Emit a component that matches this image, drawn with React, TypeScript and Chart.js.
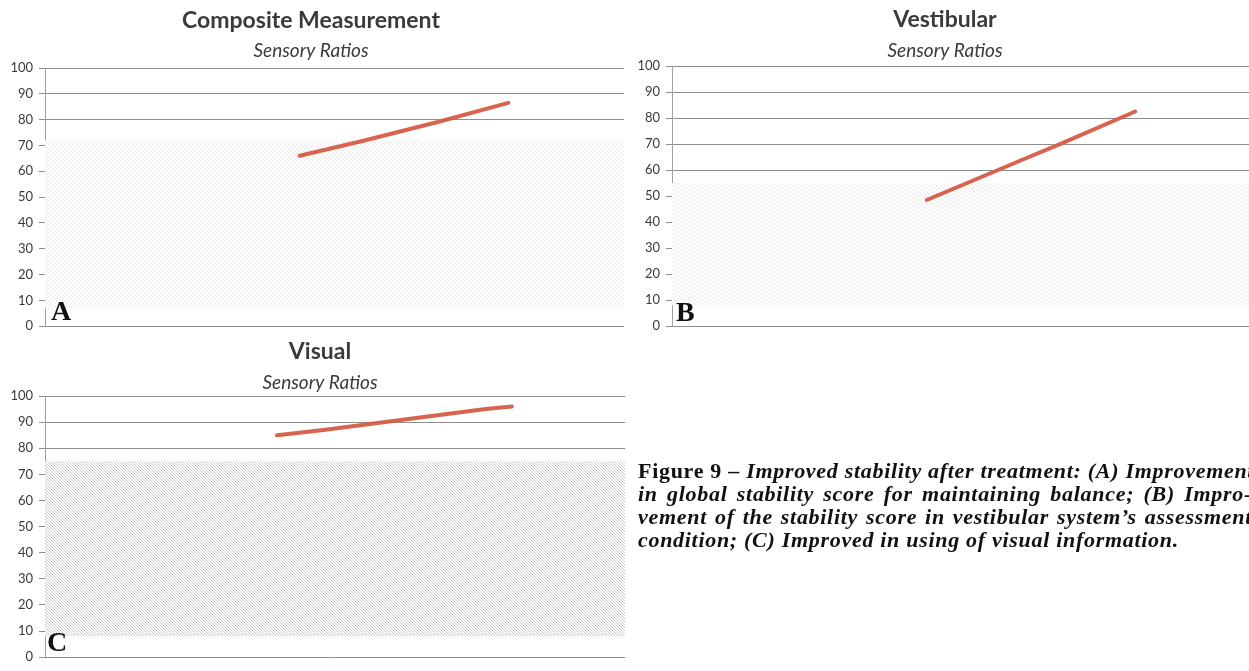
import React, { useEffect, useRef } from "react";
import { Chart, registerables } from "chart.js";

Chart.register(...registerables);

// Shared y axis ticks (score, 0–100)
const yTickValues = [0, 10, 20, 30, 40, 50, 60, 70, 80, 90, 100];

// Composite Measurement – sensory ratio scores
const compositeSession = [44, 55, 68, 80];
const compositeScore = [66, 71.8, 79.2, 86.5];
const compositeNormalBand = [7, 72];

// Vestibular – sensory ratio scores
const vestibularSession = [44, 52, 60, 67, 80];
const vestibularScore = [48.5, 56, 63.5, 70, 82.5];
const vestibularNormalBand = [8, 55];

// Visual – sensory ratio scores
const visualSession = [40, 48, 55, 62, 69, 76, 80.5];
const visualScore = [85, 87, 89, 91, 93, 95, 96];
const visualNormalBand = [8, 75];

const captionLines = [
  { lead: "Figure 9 – ", rest: "Improved stability after treatment: (A) Improvement", justify: false },
  { lead: "", rest: "in global stability score for maintaining balance; (B) Impro-", justify: true },
  { lead: "", rest: "vement of the stability score in vestibular system’s assessment", justify: true },
  { lead: "", rest: "condition; (C) Improved in using of visual information.", justify: false },
];

const TITLE_FONT = '"Lato", "Open Sans", sans-serif';
const LINE_COLOR = "rgba(214, 92, 70, 0.95)";

function hatchPattern(color: string, gap: number): CanvasPattern | string {
  const c = document.createElement("canvas");
  c.width = gap;
  c.height = gap;
  const g = c.getContext("2d");
  if (!g) return "#eee";
  g.fillStyle = "#ffffff";
  g.fillRect(0, 0, gap, gap);
  g.strokeStyle = color;
  g.lineWidth = 1;
  g.beginPath();
  g.moveTo(0, 0);
  g.lineTo(gap, gap);
  g.moveTo(-2, gap - 2);
  g.lineTo(2, gap + 2);
  g.moveTo(gap - 2, -2);
  g.lineTo(gap + 2, 2);
  g.stroke();
  return g.createPattern(c, "repeat") || "#eee";
}

const panelText = {
  id: "panelText",
  afterDraw(chart: any, _args: any, opts: any) {
    const { ctx, chartArea } = chart;
    ctx.save();
    ctx.fillStyle = "#3a3a3a";
    ctx.textAlign = "center";
    ctx.textBaseline = "alphabetic";
    ctx.font = `bold 23px ${TITLE_FONT}`;
    ctx.fillText(opts.title, opts.centerX, opts.titleBaseline);
    ctx.font = `italic 19px ${TITLE_FONT}`;
    ctx.fillText(opts.subtitle, opts.centerX, opts.subtitleBaseline);
    ctx.fillStyle = "#111111";
    ctx.textAlign = "left";
    ctx.font = 'bold 28px "Liberation Serif", serif';
    ctx.fillText(opts.letter, chartArea.left + opts.letterDx, chartArea.bottom - opts.letterDy);
    ctx.restore();
  },
};

type PanelProps = {
  left: number;
  top: number;
  width: number;
  height: number;
  pad: { top: number; right: number; bottom: number };
  xs: number[];
  ys: number[];
  band: number[];
  bandColor: string;
  bandGap: number;
  title: string;
  centerX: number;
  titleBaseline: number;
  subtitleBaseline: number;
  letter: string;
  letterDx: number;
  letterDy: number;
};

function Panel(p: PanelProps) {
  const ref = useRef<HTMLCanvasElement | null>(null);

  useEffect(() => {
    if (!ref.current) return;
    const pattern = hatchPattern(p.bandColor, p.bandGap);
    const chart = new Chart(ref.current, {
      type: "line",
      data: {
        datasets: [
          {
            label: p.title,
            data: p.xs.map((x, i) => ({ x, y: p.ys[i] })),
            borderColor: LINE_COLOR,
            borderWidth: 4,
            pointRadius: 0,
            borderCapStyle: "round",
            borderJoinStyle: "round",
            fill: false,
          },
          {
            label: "band top",
            data: [
              { x: 0, y: p.band[1] },
              { x: 100, y: p.band[1] },
            ],
            borderWidth: 0,
            pointRadius: 0,
            fill: false,
          },
          {
            label: "band bottom",
            data: [
              { x: 0, y: p.band[0] },
              { x: 100, y: p.band[0] },
            ],
            borderWidth: 0,
            pointRadius: 0,
            backgroundColor: pattern as any,
            fill: "-1",
          },
        ],
      },
      options: {
        animation: false,
        responsive: false,
        maintainAspectRatio: false,
        events: [],
        layout: { padding: { left: 0, top: p.pad.top, right: p.pad.right, bottom: p.pad.bottom } },
        plugins: {
          legend: { display: false },
          tooltip: { enabled: false },
          title: { display: false },
          panelText: {
            title: p.title,
            subtitle: "Sensory Ratios",
            centerX: p.centerX,
            titleBaseline: p.titleBaseline,
            subtitleBaseline: p.subtitleBaseline,
            letter: p.letter,
            letterDx: p.letterDx,
            letterDy: p.letterDy,
          },
        } as any,
        scales: {
          x: { type: "linear", min: 0, max: 100, display: false },
          y: {
            min: 0,
            max: 100,
            afterBuildTicks: (s: any) => {
              s.ticks = yTickValues.map((v) => ({ value: v }));
            },
            afterFit: (s: any) => {
              s.width = 45;
            },
            ticks: {
              color: "#3a3a3a",
              font: { family: TITLE_FONT, size: 13 },
              padding: 6,
            },
            grid: { color: "#8e8e8e", lineWidth: 1, tickLength: 6, drawTicks: true },
            border: { display: true, color: "#a0a0a0", width: 1 },
          },
        },
      },
      plugins: [panelText],
    });
    return () => chart.destroy();
  }, []);

  return (
    <canvas
      ref={ref}
      width={p.width}
      height={p.height}
      style={{ position: "absolute", left: p.left, top: p.top, width: p.width, height: p.height }}
    />
  );
}

export default function App() {
  return (
    <div
      style={{
        position: "fixed",
        left: 0,
        top: 0,
        width: 1249,
        height: 671,
        overflow: "hidden",
        background: "#ffffff",
      }}
    >
      <Panel
        left={0}
        top={0}
        width={640}
        height={340}
        pad={{ top: 68, right: 16, bottom: 11 }}
        xs={compositeSession}
        ys={compositeScore}
        band={compositeNormalBand}
        bandColor="#e8e8e8"
        bandGap={4}
        title="Composite Measurement"
        centerX={311}
        titleBaseline={28}
        subtitleBaseline={57}
        letter="A"
        letterDx={6}
        letterDy={6}
      />
      <Panel
        left={627}
        top={0}
        width={640}
        height={340}
        pad={{ top: 66, right: 16, bottom: 10 }}
        xs={vestibularSession}
        ys={vestibularScore}
        band={vestibularNormalBand}
        bandColor="#e8e8e8"
        bandGap={4}
        title="Vestibular"
        centerX={318}
        titleBaseline={27}
        subtitleBaseline={57}
        letter="B"
        letterDx={4}
        letterDy={5}
      />
      <Panel
        left={0}
        top={330}
        width={640}
        height={341}
        pad={{ top: 66, right: 15, bottom: 10 }}
        xs={visualSession}
        ys={visualScore}
        band={visualNormalBand}
        bandColor="#c9c9c9"
        bandGap={3}
        title="Visual"
        centerX={320}
        titleBaseline={29}
        subtitleBaseline={59}
        letter="C"
        letterDx={2}
        letterDy={6}
      />
      <div
        style={{
          position: "absolute",
          left: 638,
          top: 459,
          width: 614,
          font: 'italic bold 22px "Liberation Serif", "Times New Roman", serif',
          letterSpacing: "0.7px",
          lineHeight: "23px",
          color: "#111111",
          whiteSpace: "nowrap",
        }}
      >
        {captionLines.map((ln, i) => (
          <div key={i} style={{ textAlign: "left", textAlignLast: ln.justify ? "justify" : "left" }}>
            {ln.lead ? <span style={{ fontStyle: "normal" }}>{ln.lead}</span> : null}
            {ln.rest}
          </div>
        ))}
      </div>
    </div>
  );
}
